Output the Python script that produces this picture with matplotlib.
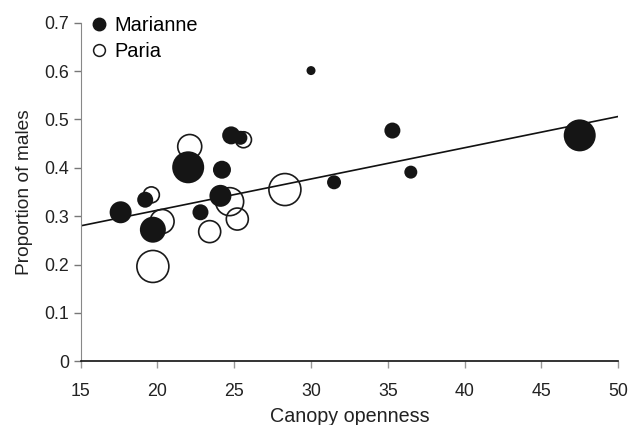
import matplotlib.pyplot as plt
from matplotlib.lines import Line2D

plt.rcParams['font.family'] = ['Liberation Sans', 'DejaVu Sans']

# Marianne (filled circles): canopy openness, proportion of males, bubble radius (px)
marianne_x = [17.6, 19.2, 19.7, 22.0, 22.8, 24.1, 24.2, 24.8, 25.4, 30.0, 31.5, 35.3, 36.5, 47.5]
marianne_y = [0.308, 0.334, 0.272, 0.401, 0.308, 0.342, 0.396, 0.467, 0.462, 0.601, 0.370, 0.477, 0.391, 0.467]
marianne_r = [11, 8, 13, 16, 8, 11, 9, 9, 7, 4.5, 7, 8, 6.5, 16]

# Paria (open circles)
paria_x = [19.6, 19.7, 20.3, 22.1, 23.4, 24.7, 25.2, 25.6, 28.3]
paria_y = [0.344, 0.196, 0.289, 0.444, 0.268, 0.330, 0.294, 0.458, 0.355]
paria_r = [8, 16, 12, 12, 11, 14, 11, 8, 16]

# regression line
fit_x = [15, 50]
fit_y = [0.280, 0.506]

dpi = 100
fig = plt.figure(figsize=(6.32, 4.25), dpi=dpi)
ax = fig.add_axes([0.1277, 0.150, 0.8503, 0.7966])


def area(r):
    # bubble radius in pixels -> scatter area in points^2
    return [(2 * v * 72 / dpi) ** 2 for v in r]


ax.plot(fit_x, fit_y, color='#111111', lw=1.2, zorder=1)
ax.scatter(paria_x, paria_y, s=area(paria_r), facecolors='none',
           edgecolors='#1a1a1a', linewidths=1.2, zorder=2)
ax.scatter(marianne_x, marianne_y, s=area(marianne_r), color='#151515',
           edgecolors='none', zorder=3)

ax.set_xlim(15, 50)
ax.set_ylim(0, 0.7)
ax.set_xticks(range(15, 51, 5))
ax.set_yticks([0, 0.1, 0.2, 0.3, 0.4, 0.5, 0.6, 0.7])
ax.set_yticklabels(['0', '0.1', '0.2', '0.3', '0.4', '0.5', '0.6', '0.7'])
ax.tick_params(labelsize=12.8, colors='#222222', length=5, width=1)
ax.tick_params(axis='y', color='#777777')
ax.tick_params(axis='x', color='#999999', pad=10.5)

for side in ['top', 'right']:
    ax.spines[side].set_visible(False)
ax.spines['left'].set_color('#888888')
ax.spines['bottom'].set_color('#111111')
ax.spines['bottom'].set_linewidth(1.2)

ax.set_xlabel('Canopy openness', fontsize=14.2, color='#222222', labelpad=5)
ax.set_ylabel('Proportion of males', fontsize=13.8, color='#222222', labelpad=8)

handles = [
    Line2D([], [], marker='o', ls='none', color='#151515', markersize=9),
    Line2D([], [], marker='o', ls='none', markerfacecolor='none',
           markeredgecolor='#1a1a1a', markeredgewidth=1.1, markersize=8.5),
]
ax.legend(handles, ['Marianne', 'Paria'], loc='upper left', frameon=False,
          fontsize=14.4, handletextpad=0.15, borderpad=0, borderaxespad=0,
          labelspacing=0.35, handlelength=1.2, bbox_to_anchor=(0.012, 1.02))

fig.savefig('out.png', dpi=dpi)
